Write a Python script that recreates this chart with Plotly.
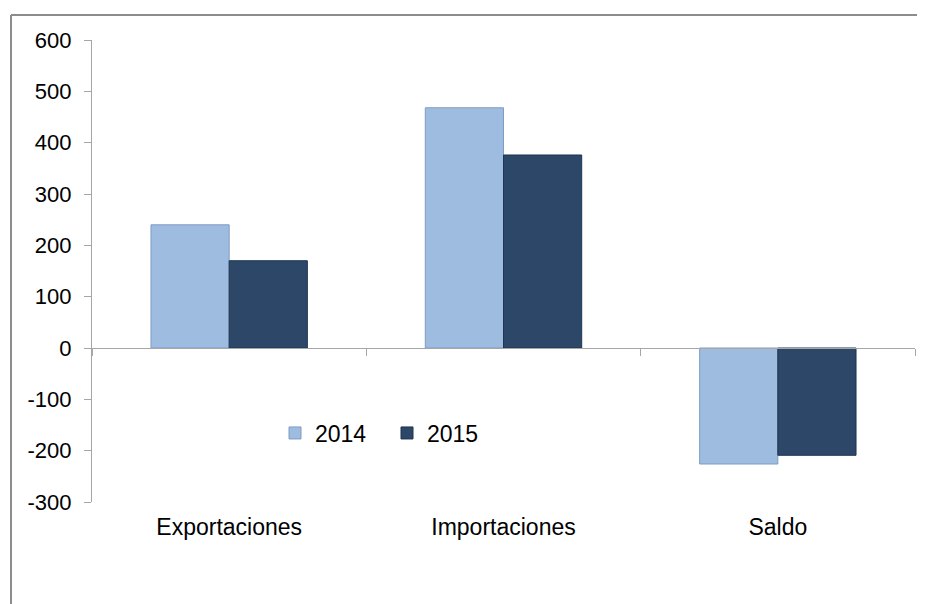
import plotly.graph_objects as go

categories = ["Exportaciones", "Importaciones", "Saldo"]
values_2014 = [240, 468, -226]
values_2015 = [170, 376, -209]
series_names = ["2014", "2015"]
y_ticks = [-300, -200, -100, 0, 100, 200, 300, 400, 500, 600]
y_tick_text = ["-300", "-200", "-100", "0", "100", "200", "300", "400", "500", "600"]

# page has an 8px body margin; work in page coords and convert
OFF = 8
W, H = 925 - OFF, 604 - OFF
ml, mt = 92 - OFF, 40 - OFF
pw, ph = 823, 462
mr = W - ml - pw
mb = H - mt - ph

font_family = "Liberation Sans, Arial, sans-serif"
fs_tick = 22
fs_cat = 23

fig = go.Figure()
fig.add_trace(go.Bar(x=categories, y=values_2014, name=series_names[0],
                     marker=dict(color="#9EBBE0", line=dict(color="#7F9CC2", width=1))))
fig.add_trace(go.Bar(x=categories, y=values_2015, name=series_names[1],
                     marker=dict(color="#2C4768", line=dict(color="#1E3452", width=1))))
# invisible trace on overlay axis for category boundary ticks at zero line
fig.add_trace(go.Scatter(x=categories, y=[0, 0, 0], xaxis="x2", yaxis="y",
                         mode="markers", marker=dict(opacity=0), showlegend=False,
                         hoverinfo="skip"))

def px_x(p):  # page x -> paper
    return (p - OFF - ml) / pw

def px_y(p):  # page y -> paper
    return (H - mb - (p - OFF)) / ph

fig.update_layout(
    width=W, height=H,
    margin=dict(l=ml, r=mr, t=mt, b=mb, autoexpand=False),
    paper_bgcolor="white", plot_bgcolor="white",
    font=dict(family=font_family, size=fs_tick, color="#000000"),
    barmode="group", bargap=0.43, bargroupgap=0,
    showlegend=True,
    legend=dict(orientation="h", x=px_x(275), y=px_y(433), xanchor="left", yanchor="middle",
                font=dict(size=fs_cat), itemwidth=30, entrywidth=67, bgcolor="rgba(0,0,0,0)",
                traceorder="normal"),
    xaxis=dict(showline=False, ticks="", showgrid=False, zeroline=False,
               tickfont=dict(size=fs_cat), ticklabelstandoff=9),
    xaxis2=dict(overlaying="x", matches="x", anchor="free", position=1/3,
                showline=True, linecolor="#A6A6A6", linewidth=1.3,
                ticks="outside", tickson="boundaries", ticklen=7, tickcolor="#A6A6A6",
                showticklabels=False, showgrid=False, zeroline=False),
    yaxis=dict(range=[-300, 600], tickvals=y_ticks, ticktext=y_tick_text,
               showgrid=False, zeroline=False,
               showline=True, linecolor="#A6A6A6", linewidth=1.3,
               ticks="outside", ticklen=7, tickcolor="#A6A6A6",
               tickfont=dict(size=fs_tick), ticklabelstandoff=8),
    shapes=[
        dict(type="line", xref="paper", yref="paper",
             x0=px_x(11), x1=px_x(940), y0=px_y(15), y1=px_y(15),
             line=dict(color="#8C8C8C", width=2)),
        dict(type="line", xref="paper", yref="paper",
             x0=px_x(11), x1=px_x(11), y0=px_y(15), y1=px_y(620),
             line=dict(color="#8C8C8C", width=2)),
    ],
)

fig.write_html("out.html")
